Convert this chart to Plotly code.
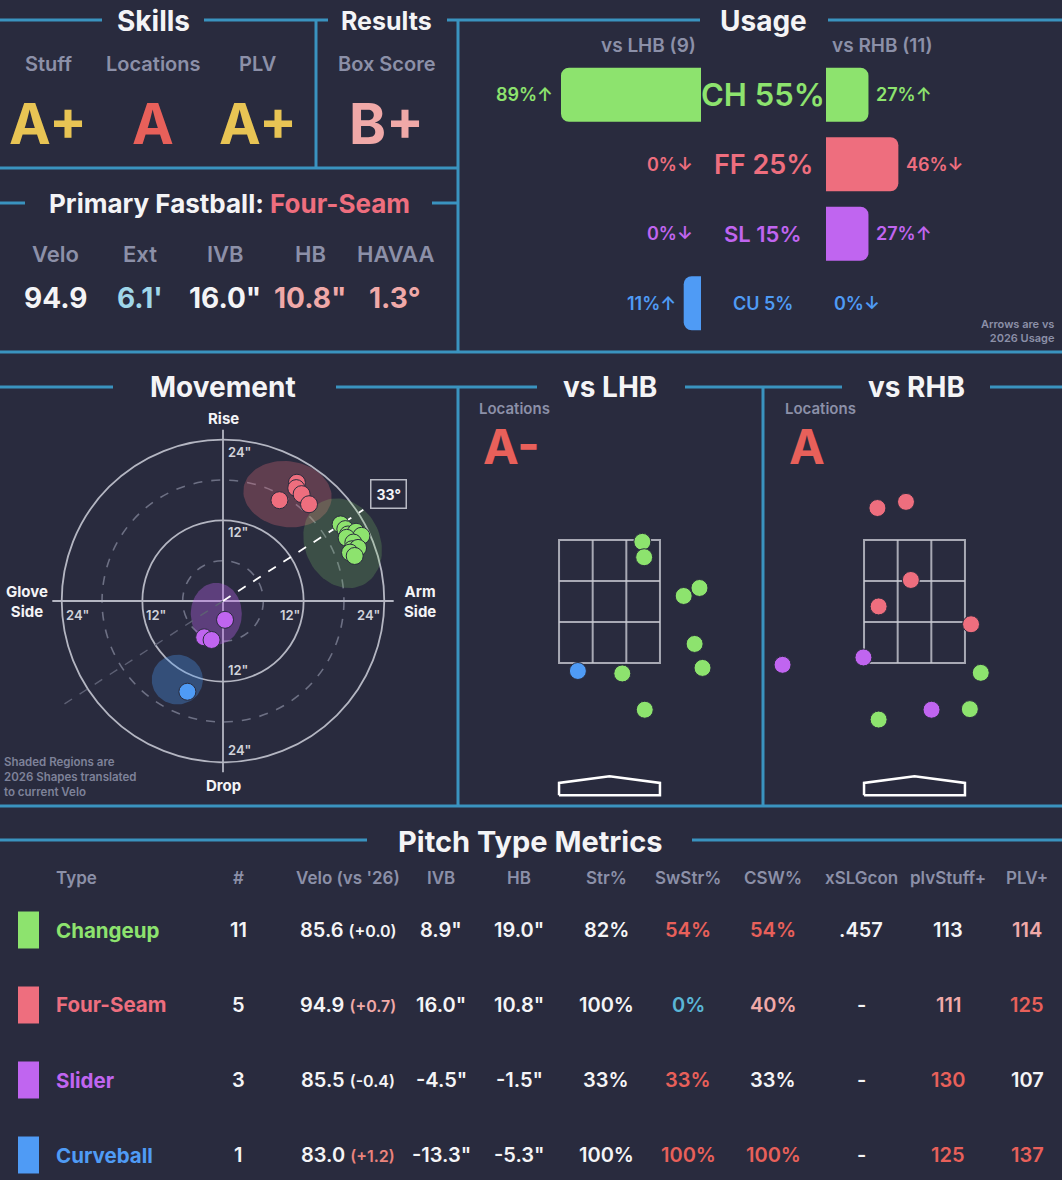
import numpy as np
import plotly.graph_objects as go

W, H = 1062, 1180
BG = "#292b3e"
LINE = "#3a93bf"
GRAY = "#8c90a8"
WHITE = "#f4f4f6"
FONT = "Inter"

GREEN = "#8de36e"
FFRED = "#ee6e7e"
PURPLE = "#c065f0"
BLUE = "#4f9bf5"
RED = "#e8605a"
PINK = "#f0a9a8"
YELLOW = "#e8c454"
ICE = "#9fd6e9"
CYAN = "#5ab6d6"
SALMON = "#e9837c"

# ---------------- data ----------------
skill_names = ["Stuff", "Locations", "PLV"]
skill_grades = ["A+", "A", "A+"]
result_name = "Box Score"
result_grade = "B+"

fastball_name = "Four-Seam"
fastball_labels = ["Velo", "Ext", "IVB", "HB", "HAVAA"]
fastball_values = ["94.9", "6.1'", '16.0"', '10.8"', "1.3°"]

pitch_codes = ["CH", "FF", "SL", "CU"]
pitch_names = ["Changeup", "Four-Seam", "Slider", "Curveball"]
usage_all = [55, 25, 15, 5]
usage_lhb = [89, 0, 0, 11]
usage_rhb = [27, 46, 27, 0]
trend_lhb = ["↑", "↓", "↓", "↑"]
trend_rhb = ["↑", "↓", "↑", "↓"]
n_lhb = 9
n_rhb = 11

# pitch movement in inches (HB: arm side positive, IVB)
mov_type = ["FF"] * 5 + ["CH"] * 11 + ["SL"] * 3 + ["CU"]
mov_hb = [8.4, 11.0, 10.9, 11.7, 12.8,
          17.5, 18.2, 18.6, 19.8, 20.6, 18.4, 19.4, 19.2, 20.1, 18.9, 19.6,
          0.3, -2.8, -1.7,
          -5.3]
mov_ivb = [15.0, 17.6, 16.8, 15.9, 14.4,
           11.4, 10.7, 9.9, 10.3, 9.7, 9.4, 8.7, 7.7, 7.9, 7.2, 6.7,
           -2.8, -5.4, -5.8,
           -13.5]
arm_angle = 33

# 2026 shapes (centre, radii, tilt)
region_type = ["FF", "CH", "SL", "CU"]
region_hb = [9.6, 17.8, -1.0, -6.8]
region_ivb = [15.9, 8.6, -1.9, -11.7]
region_rx = [6.6, 5.6, 3.8, 3.8]
region_ry = [4.9, 6.9, 4.6, 3.7]
region_tilt = [-8, 25, 0, 0]

# pitch locations in feet, vs LHB
lhb_type = ["CH", "CH", "CH", "CH", "CH", "CH", "CU", "CH", "CH"]
lhb_x = [0.54, 0.57, 1.22, 1.48, 1.40, 1.53, -0.52, 0.21, 0.58]
lhb_z = [3.47, 3.22, 2.59, 2.72, 1.81, 1.42, 1.37, 1.33, 0.74]
lhb_grade = "A-"

# pitch locations in feet, vs RHB
rhb_type = ["FF", "FF", "FF", "FF", "FF", "SL", "SL", "CH", "CH", "SL", "CH"]
rhb_x = [-0.61, -0.14, -0.06, -0.59, 0.93, -2.17, -0.84, 1.09, -0.59, 0.28, 0.91]
rhb_z = [4.02, 4.12, 2.85, 2.42, 2.13, 1.47, 1.59, 1.34, 0.58, 0.74, 0.75]
rhb_grade = "A"

# table
tbl_headers = ["#", "Velo (vs '26)", "IVB", "HB", "Str%", "SwStr%", "CSW%", "xSLGcon", "plvStuff+", "PLV+"]
tbl_count = [11, 5, 3, 1]
tbl_velo = [85.6, 94.9, 85.5, 83.0]
tbl_velo_diff = [0.0, 0.7, -0.4, 1.2]
tbl_ivb = [8.9, 16.0, -4.5, -13.3]
tbl_hb = [19.0, 10.8, -1.5, -5.3]
tbl_str = [82, 100, 33, 100]
tbl_swstr = [54, 0, 33, 100]
tbl_csw = [54, 40, 33, 100]
tbl_xslg = [".457", "-", "-", "-"]
tbl_stuff = [113, 111, 130, 125]
tbl_plv = [114, 125, 107, 137]

# ---------------- styles ----------------
pcol = {"CH": GREEN, "FF": FFRED, "SL": PURPLE, "CU": BLUE}
grade_col = {"A+": YELLOW, "A": RED, "A-": RED, "B+": PINK}
fastball_colors = [WHITE, ICE, WHITE, PINK, PINK]
usage_font = [31, 27, 22, 18]
velo_diff_col = [WHITE, PINK, WHITE, SALMON]
swstr_col = [RED, CYAN, RED, RED]
csw_col = [RED, PINK, WHITE, RED]
stuff_col = [WHITE, PINK, RED, RED]
plv_col = [PINK, RED, WHITE, RED]

shapes = []
annotations = []


def fx(p):
    return p / W


def fy(p):
    return 1 - p / H


def hline(y, x0, x1):
    shapes.append(dict(type="line", xref="paper", yref="paper", x0=fx(x0), x1=fx(x1),
                       y0=fy(y), y1=fy(y), line=dict(color=LINE, width=3)))


def vline(x, y0, y1):
    shapes.append(dict(type="line", xref="paper", yref="paper", x0=fx(x), x1=fx(x),
                       y0=fy(y0), y1=fy(y1), line=dict(color=LINE, width=3)))


def text(x, y, s, size, color, weight=700, xanchor="center", yanchor="middle", **kw):
    annotations.append(dict(x=fx(x), y=fy(y), xref="paper", yref="paper", text=s,
                            showarrow=False, xanchor=xanchor, yanchor=yanchor,
                            font=dict(family=FONT, size=size, color=color, weight=weight), **kw))


axes = {}


def add_axes(n, xdom, ydom, xc_px, yc_px, xs, ys, xc=0.0, yc=0.0):
    xr = [xc + (xdom[0] - xc_px) / xs, xc + (xdom[1] - xc_px) / xs]
    yr = [yc - (ydom[1] - yc_px) / ys, yc - (ydom[0] - yc_px) / ys]
    base = dict(visible=False, fixedrange=True, showgrid=False, zeroline=False)
    axes[f"xaxis{n}"] = dict(base, domain=[fx(xdom[0]), fx(xdom[1])], range=xr, anchor=f"y{n}")
    axes[f"yaxis{n}"] = dict(base, domain=[fy(ydom[1]), fy(ydom[0])], range=yr, anchor=f"x{n}")


# ---------------- panel frame ----------------
for seg in [(0, 102), (204, 328), (447, 700), (828, 1062)]:
    hline(20, *seg)
vline(316, 20, 168)
hline(168, 0, 458)
vline(458, 20, 352)
for seg in [(0, 25), (432, 458)]:
    hline(203, *seg)
hline(352, 0, 1062)
for seg in [(0, 113), (336, 537), (685, 842), (990, 1062)]:
    hline(387, *seg)
vline(458, 387, 806)
vline(763, 387, 806)
hline(806, 0, 1062)
for seg in [(0, 367), (692, 1062)]:
    hline(840, *seg)

# ---------------- skills / results ----------------
text(153, 21, "Skills", 28, WHITE)
text(387, 21, "Results", 25, WHITE)
for i, (nm, gr) in enumerate(zip(skill_names, skill_grades)):
    cx = 48 + 105 * i
    text(cx, 64, nm, 20, GRAY, 600)
    text(cx, 124, gr, 56, grade_col[gr])
text(387, 64, result_name, 20, GRAY, 600)
text(387, 124, result_grade, 56, grade_col[result_grade])

text(229, 204, f"Primary Fastball: <span style='color:{FFRED}'>{fastball_name}</span>", 26, WHITE)
for i, (lb, v) in enumerate(zip(fastball_labels, fastball_values)):
    cx = 55 + 85 * i
    text(cx, 254, lb, 22, GRAY, 600)
    text(cx, 298, v, 28, fastball_colors[i])

# ---------------- usage ----------------
K = 1.573  # px per percent
add_axes(2, (458, 701), (60, 338), 701, 95, K, 69.4)
axes["xaxis2"]["range"] = [(701 - 458) / K, 0]
axes["yaxis2"]["range"] = [3.5, -0.5]
axes["xaxis3"] = dict(visible=False, fixedrange=True, domain=[fx(826), 1.0],
                      range=[0, (1062 - 826) / K], anchor="y2")

yy = list(range(len(pitch_codes)))
cols = [pcol[c] for c in pitch_codes]
fig = go.Figure()
fig.add_trace(go.Bar(x=usage_lhb, y=yy, orientation="h", xaxis="x2", yaxis="y2", width=0.78,
                     marker=dict(color=cols, cornerradius=8, line=dict(width=0)), hoverinfo="skip"))
fig.add_trace(go.Bar(x=usage_rhb, y=yy, orientation="h", xaxis="x3", yaxis="y2", width=0.78,
                     marker=dict(color=cols, cornerradius=8, line=dict(width=0)), hoverinfo="skip"))

text(648, 45, f"vs LHB ({n_lhb})", 19, GRAY, 600)
text(882, 45, f"vs RHB ({n_rhb})", 19, GRAY, 600)
text(763, 21, "Usage", 28, WHITE)
for i, c in enumerate(pitch_codes):
    annotations.append(dict(x=fx(763), xref="paper", y=i, yref="y2", text=f"{c} {usage_all[i]}%",
                            xanchor="center", yanchor="middle", showarrow=False,
                            font=dict(family=FONT, size=usage_font[i], color=pcol[c], weight=600)))
    annotations.append(dict(x=usage_lhb[i], xref="x2", y=i, yref="y2", xanchor="right", xshift=-6,
                            text=f"{usage_lhb[i]}%{trend_lhb[i]}", showarrow=False,
                            font=dict(family=FONT, size=18, color=pcol[c], weight=600)))
    annotations.append(dict(x=usage_rhb[i], xref="x3", y=i, yref="y2", xanchor="left", xshift=6,
                            text=f"{usage_rhb[i]}%{trend_rhb[i]}", showarrow=False,
                            font=dict(family=FONT, size=18, color=pcol[c], weight=600)))
text(1057, 331, "Arrows are vs<br>2026 Usage", 11, GRAY, 600, xanchor="right", align="right")

# ---------------- movement ----------------
S = 6.72  # px per inch
add_axes(4, (0, 446), (395, 805), 223, 601, S, S)
for r in [6, 18]:
    shapes.append(dict(type="circle", xref="x4", yref="y4", x0=-r, x1=r, y0=-r, y1=r, layer="below",
                       line=dict(color="#6d7084", width=1.6, dash="dash")))
for r in [12, 24]:
    shapes.append(dict(type="circle", xref="x4", yref="y4", x0=-r, x1=r, y0=-r, y1=r, layer="below",
                       line=dict(color="#b4b6c2", width=1.8)))
shapes.append(dict(type="line", xref="x4", yref="y4", x0=-25.4, x1=25.4, y0=0, y1=0, layer="below",
                   line=dict(color="#b4b6c2", width=1.8)))
shapes.append(dict(type="line", xref="x4", yref="y4", x0=0, x1=0, y0=-25.5, y1=25.5, layer="below",
                   line=dict(color="#b4b6c2", width=1.8)))

t = np.linspace(0, 2 * np.pi, 90)
for i, c in enumerate(region_type):
    a = np.radians(region_tilt[i])
    ex = region_hb[i] + region_rx[i] * np.cos(t) * np.cos(a) - region_ry[i] * np.sin(t) * np.sin(a)
    ey = region_ivb[i] + region_rx[i] * np.cos(t) * np.sin(a) + region_ry[i] * np.sin(t) * np.cos(a)
    h = pcol[c].lstrip("#")
    rgb = tuple(int(h[j:j + 2], 16) for j in (0, 2, 4))
    alpha = {"FF": 0.28, "CH": 0.2, "SL": 0.35, "CU": 0.32}[c]
    fig.add_trace(go.Scatter(x=ex, y=ey, xaxis="x4", yaxis="y4", mode="lines", fill="toself",
                             fillcolor=f"rgba({rgb[0]},{rgb[1]},{rgb[2]},{alpha})",
                             line=dict(width=0), hoverinfo="skip"))

ang = np.radians(arm_angle)
fig.add_trace(go.Scatter(x=[0, -29.3 * np.cos(ang)], y=[0, -29.3 * np.sin(ang)], xaxis="x4", yaxis="y4",
                         mode="lines", line=dict(color="#5d6074", width=1.4, dash="dash"), hoverinfo="skip"))
fig.add_trace(go.Scatter(x=[0, 24.9 * np.cos(ang)], y=[0, 24.9 * np.sin(ang)], xaxis="x4", yaxis="y4",
                         mode="lines", line=dict(color="#ffffff", width=1.8, dash="dash"), hoverinfo="skip"))

for c in ["CU", "SL", "FF", "CH"]:
    idx = [i for i, tp in enumerate(mov_type) if tp == c]
    fig.add_trace(go.Scatter(x=[mov_hb[i] for i in idx], y=[mov_ivb[i] for i in idx], xaxis="x4", yaxis="y4",
                             mode="markers", marker=dict(size=17, color=pcol[c], line=dict(color="#2a2c3e", width=1)),
                             hoverinfo="skip"))

text(223, 387, "Movement", 28, WHITE)
text(223, 418, "Rise", 15, WHITE)
text(223, 785, "Drop", 15, WHITE)
text(27, 601, "Glove<br>Side", 15, WHITE)
text(420, 601, "Arm<br>Side", 15, WHITE)
tick_font = dict(family=FONT, size=13, color="#d2d3da", weight=600)
for r in [12, 24]:
    annotations.append(dict(x=0, y=r, xref="x4", yref="y4", text=f'{r}"', showarrow=False, xanchor="left",
                            yanchor="top", xshift=3, yshift=-2, font=tick_font))
    annotations.append(dict(x=0, y=-r, xref="x4", yref="y4", text=f'{r}"', showarrow=False, xanchor="left",
                            yanchor="bottom", xshift=3, yshift=2, font=tick_font))
    annotations.append(dict(x=-r, y=0, xref="x4", yref="y4", text=f'{r}"', showarrow=False, xanchor="left",
                            yanchor="top", xshift=2, yshift=-4, font=tick_font))
    annotations.append(dict(x=r, y=0, xref="x4", yref="y4", text=f'{r}"', showarrow=False, xanchor="right",
                            yanchor="top", xshift=-2, yshift=-4, font=tick_font))
text(388, 494, f"{arm_angle}°", 14, WHITE, bordercolor="#b8bac4", borderwidth=1.5, borderpad=5, bgcolor=BG)
text(2, 777, "Shaded Regions are<br>2026 Shapes translated<br>to current Velo", 11.5, "#7e8299", 600,
     xanchor="left", align="left")

# ---------------- locations ----------------
ZX, ZZ = 60.8, 61.5
add_axes(5, (460, 762), (470, 805), 609.5, 663, ZX, ZZ, 0, 1.5)
add_axes(6, (765, 1060), (470, 805), 914.5, 663, ZX, ZZ, 0, 1.5)
zone_x = [-0.83, 0.83]
zone_z = [1.5, 3.5]
plate_x = [-0.83, -0.83, 0.0, 0.83, 0.83, -0.83]
plate_z = [-0.65, -0.45, -0.34, -0.45, -0.65, -0.65]
for n, title, grade, tps, xs, zs, tx in [(5, "vs LHB", lhb_grade, lhb_type, lhb_x, lhb_z, 610),
                                         (6, "vs RHB", rhb_grade, rhb_type, rhb_x, rhb_z, 916)]:
    zl = dict(color="rgba(200,201,210,0.8)", width=2)
    shapes.append(dict(type="rect", xref=f"x{n}", yref=f"y{n}", x0=zone_x[0], x1=zone_x[1],
                       y0=zone_z[0], y1=zone_z[1], line=zl, layer="below"))
    for k in (1, 2):
        xv = zone_x[0] + (zone_x[1] - zone_x[0]) * k / 3
        zv = zone_z[0] + (zone_z[1] - zone_z[0]) * k / 3
        shapes.append(dict(type="line", xref=f"x{n}", yref=f"y{n}", x0=xv, x1=xv, y0=zone_z[0], y1=zone_z[1],
                           line=zl, layer="below"))
        shapes.append(dict(type="line", xref=f"x{n}", yref=f"y{n}", x0=zone_x[0], x1=zone_x[1], y0=zv, y1=zv,
                           line=zl, layer="below"))
    fig.add_trace(go.Scatter(x=plate_x, y=plate_z, xaxis=f"x{n}", yaxis=f"y{n}", mode="lines",
                             line=dict(color="white", width=2.5), hoverinfo="skip"))
    fig.add_trace(go.Scatter(x=xs, y=zs, xaxis=f"x{n}", yaxis=f"y{n}", mode="markers",
                             marker=dict(size=17, color=[pcol[c] for c in tps],
                                         line=dict(color="#2a2c3e", width=1)), hoverinfo="skip"))
    text(tx, 387, title, 28, WHITE)
    left = 477 if n == 5 else 783
    text(left, 409, "Locations", 15, GRAY, 600, xanchor="left")
    text(left + 4, 447, grade, 48, grade_col[grade], xanchor="left")

# ---------------- table ----------------
text(530, 841, "Pitch Type Metrics", 29, WHITE)
col_x = [238, 348, 441, 519, 606, 688, 773, 861, 948, 1027]
row_y = [930, 1005, 1080, 1155]
text(54, 878, "Type", 17, GRAY, 600, xanchor="left")
for cx, hd in zip(col_x, tbl_headers):
    text(cx, 878, hd, 17, GRAY, 600)
for i, c in enumerate(pitch_codes):
    y = row_y[i]
    shapes.append(dict(type="rect", xref="paper", yref="paper", x0=fx(18), x1=fx(39), y0=fy(y + 18.5),
                       y1=fy(y - 18.5), fillcolor=pcol[c], line=dict(width=0)))
    text(54, y, pitch_names[i], 20.5, pcol[c], xanchor="left")
    cells = [
        (str(tbl_count[i]), WHITE),
        (f"{tbl_velo[i]:.1f} <span style='font-size:16px;color:{velo_diff_col[i]}'>({tbl_velo_diff[i]:+.1f})</span>", WHITE),
        (f'{tbl_ivb[i]:.1f}"', WHITE),
        (f'{tbl_hb[i]:.1f}"', WHITE),
        (f"{tbl_str[i]}%", WHITE),
        (f"{tbl_swstr[i]}%", swstr_col[i]),
        (f"{tbl_csw[i]}%", csw_col[i]),
        (tbl_xslg[i], WHITE),
        (str(tbl_stuff[i]), stuff_col[i]),
        (str(tbl_plv[i]), plv_col[i]),
    ]
    for cx, (s, colr) in zip(col_x, cells):
        text(cx, y, s, 20, colr, 600)

fig.update_layout(
    width=W, height=H, margin=dict(l=0, r=0, t=0, b=0),
    paper_bgcolor=BG, plot_bgcolor=BG, showlegend=False,
    xaxis=dict(visible=False), yaxis=dict(visible=False),
    shapes=shapes, annotations=annotations, **axes,
)
fig.write_html("out.html", config={"displayModeBar": False},
               post_script="document.body.style.margin='0px';")
